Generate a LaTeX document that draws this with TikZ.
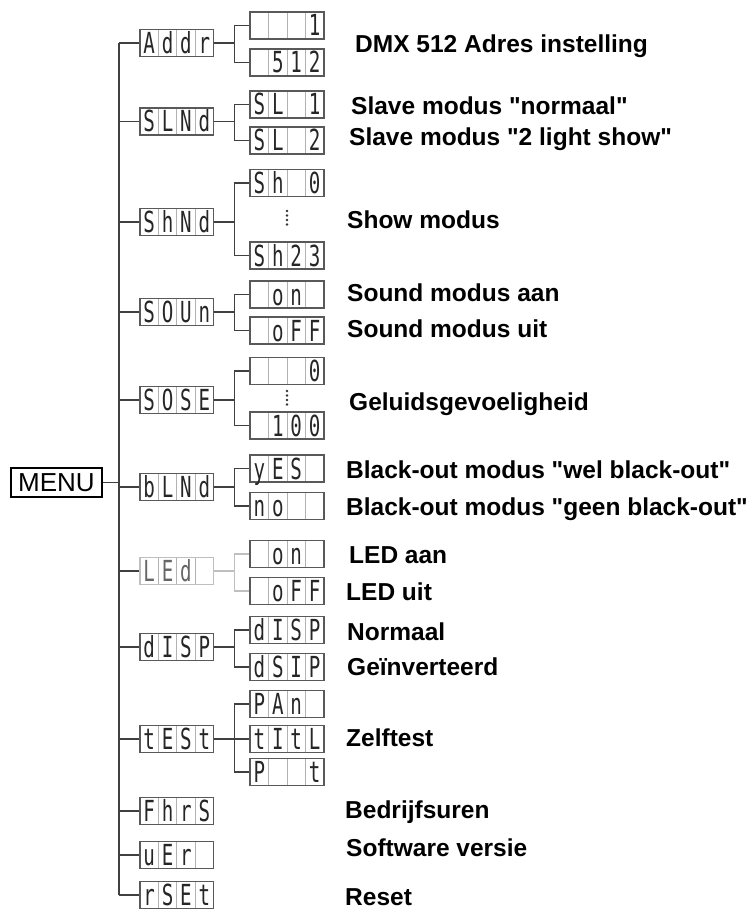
\documentclass[tikz,border=0pt]{standalone}
\usepackage{graphicx}
\usepackage{fontspec}
\setmainfont{Liberation Sans}
\newfontfamily\lcdfont{DejaVu Sans Mono}
\usetikzlibrary{calc}

% 显示屏的四个字位
\newlength{\cellw}\setlength{\cellw}{18.4pt}
\newcommand{\seg}[1]{\makebox[\cellw]{\scalebox{0.66}[1]{#1}}}
\newcommand{\lcdtext}[4]{\lcdfont\fontsize{29}{29}\selectfont\seg{#1}\seg{#2}\seg{#3}\seg{#4}}
\newcommand{\qq}{\textquotedbl}

\tikzset{
  lcdbox/.style={draw=black!65, line width=1.5pt, inner sep=0pt,
    minimum width=73.6pt, minimum height=27pt, text height=21pt, text depth=0pt,
    text=black!85,
    path picture={\foreach \k in {1,2,3}{\draw[black!30, line width=0.8pt]
      ($(path picture bounding box.south west)!\k/4!(path picture bounding box.south east)$) --
      ($(path picture bounding box.north west)!\k/4!(path picture bounding box.north east)$);}}},
  lcdgray/.style={lcdbox, draw=black!25, text=black!60},
  menubox/.style={draw, line width=1.2pt, inner sep=0pt, minimum width=91pt,
    minimum height=29pt, font=\fontsize{26}{26}\selectfont},
  wire/.style={draw=black!75, line width=1.2pt},
  wiregray/.style={draw=black!25, line width=1.2pt},
  info/.style={anchor=base west, inner sep=0pt, font=\fontsize{24.5}{29}\selectfont\bfseries},
  dot/.style={fill=black!80}
}

\begin{document}
\begin{tikzpicture}[x=1pt,y=-1pt]
    \useasboundingbox (0,0) rectangle (755,912);

    % 主菜单
    \node[menubox] (menu) at (56.5,482.5) {MENU};

    % 第一级
    \node[lcdbox] (addr) at (176.8,43) {\lcdtext{A}{d}{d}{r}};
    \node[lcdbox] (slnd) at (176.8,121.5) {\lcdtext{S}{L}{N}{d}};
    \node[lcdbox] (shnd) at (176.8,222) {\lcdtext{S}{h}{N}{d}};
    \node[lcdbox] (soun) at (176.8,312) {\lcdtext{S}{O}{U}{n}};
    \node[lcdbox] (sose) at (176.8,400) {\lcdtext{S}{O}{S}{E}};
    \node[lcdbox] (blnd) at (176.8,487) {\lcdtext{b}{L}{N}{d}};
    \node[lcdgray] (led) at (176.8,571) {\lcdtext{L}{E}{d}{}};
    \node[lcdbox] (disp) at (176.8,647) {\lcdtext{d}{I}{S}{P}};
    \node[lcdbox] (test) at (176.8,739) {\lcdtext{t}{E}{S}{t}};
    \node[lcdbox] (fhrs) at (176.8,811) {\lcdtext{F}{h}{r}{S}};
    \node[lcdbox] (uer) at (176.8,855) {\lcdtext{u}{E}{r}{}};
    \node[lcdbox] (rset) at (176.8,895) {\lcdtext{r}{S}{E}{t}};

    % 第二级
    \node[lcdbox] (addrA) at (287,25.5) {\lcdtext{}{}{}{1}};
    \node[lcdbox] (addrB) at (287,62.5) {\lcdtext{}{5}{1}{2}};
    \node[lcdbox] (slndA) at (287,104.5) {\lcdtext{S}{L}{}{1}};
    \node[lcdbox] (slndB) at (287,140.5) {\lcdtext{S}{L}{}{2}};
    \node[lcdbox] (shndA) at (287,183) {\lcdtext{S}{h}{}{0}};
    \node[lcdbox] (shndB) at (287,255.5) {\lcdtext{S}{h}{2}{3}};
    \node[lcdbox] (sounA) at (287,294.5) {\lcdtext{}{o}{n}{}};
    \node[lcdbox] (sounB) at (287,330.5) {\lcdtext{}{o}{F}{F}};
    \node[lcdbox] (soseA) at (287,371) {\lcdtext{}{}{}{0}};
    \node[lcdbox] (soseB) at (287,425.5) {\lcdtext{}{1}{0}{0}};
    \node[lcdbox] (blndA) at (287,468.5) {\lcdtext{y}{E}{S}{}};
    \node[lcdbox] (blndB) at (287,506) {\lcdtext{n}{o}{}{}};
    \node[lcdbox] (ledA) at (287,554) {\lcdtext{}{o}{n}{}};
    \node[lcdbox] (ledB) at (287,591) {\lcdtext{}{o}{F}{F}};
    \node[lcdbox] (dispA) at (287,630) {\lcdtext{d}{I}{S}{P}};
    \node[lcdbox] (dispB) at (287,667) {\lcdtext{d}{S}{I}{P}};
    \node[lcdbox] (testA) at (287,704) {\lcdtext{P}{A}{n}{}};
    \node[lcdbox] (testB) at (287,739) {\lcdtext{t}{I}{t}{L}};
    \node[lcdbox] (testC) at (287,772) {\lcdtext{P}{}{}{t}};

    % 省略点
    \foreach \y in {211,215.5,220,224.5} \fill[dot] (287,\y) circle (1.4);
    \foreach \y in {391,395.5,400,404.5} \fill[dot] (287,\y) circle (1.4);

    % 说明文字
    \node[info] (lbladdr) at (355,53) {DMX 512 Adres instelling};
    \node[info] (lblslndA) at (351,115) {Slave modus \qq normaal\qq};
    \node[info] (lblslndB) at (349,146) {Slave modus \qq 2 light show\qq};
    \node[info] (lblshnd) at (347,228) {Show modus};
    \node[info] (lblsounA) at (347,301) {Sound modus aan};
    \node[info] (lblsounB) at (347,337) {Sound modus uit};
    \node[info] (lblsose) at (349,410) {Geluidsgevoeligheid};
    \node[info] (lblblndA) at (346,478) {Black-out modus \qq wel black-out\qq};
    \node[info] (lblblndB) at (346,515) {Black-out modus \qq geen black-out\qq};
    \node[info] (lblledA) at (349,563) {LED aan};
    \node[info] (lblledB) at (346,600) {LED uit};
    \node[info] (lbldispA) at (347,640) {Normaal};
    \node[info] (lbldispB) at (347,675) {Geïnverteerd};
    \node[info] (lbltest) at (346,746) {Zelftest};
    \node[info] (lblfhrs) at (345,818) {Bedrijfsuren};
    \node[info] (lbluer) at (346,856) {Software versie};
    \node[info] (lblrset) at (345,905) {Reset};

    % 主干连线
    \coordinate (trunk) at (119,482.5);
    \draw[wire] (menu.east) -- (trunk);
    \draw[wire] (addr.west -| trunk) -- (rset.west -| trunk);
    \foreach \n in {addr,slnd,shnd,soun,sose,blnd,led,disp,test,fhrs,uer,rset}
      \draw[wire] (\n.west -| trunk) -- (\n.west);

    % 分支连线
    \foreach \n/\c in {addr/addrA,addr/addrB,slnd/slndA,slnd/slndB,shnd/shndA,shnd/shndB,
        soun/sounA,soun/sounB,sose/soseA,sose/soseB,blnd/blndA,blnd/blndB,
        disp/dispA,disp/dispB,test/testA,test/testB,test/testC}
      \draw[wire] (\n.east) -- ++(20,0) |- (\c.west);
    \draw[wiregray] (led.east) -- ++(20,0) |- (ledA.west);
    \draw[wiregray] (led.east) -- ++(20,0) |- (ledB.west);

\end{tikzpicture}
\end{document}
